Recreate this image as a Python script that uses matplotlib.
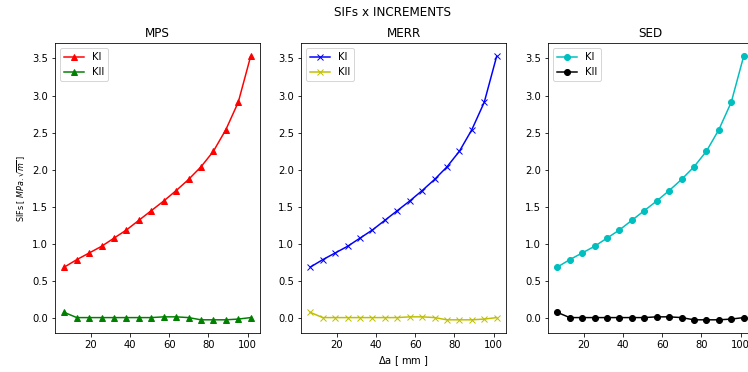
import matplotlib
matplotlib.use('Agg')
import matplotlib.pyplot as plt

# crack increments (mm) and SIFs for each criterion
da = [6.35, 12.7, 19.05, 25.4, 31.75, 38.1, 44.45, 50.8, 57.15, 63.5,
      69.85, 76.2, 82.55, 88.9, 95.25, 101.6]
ki = [0.69, 0.79, 0.88, 0.97, 1.08, 1.19, 1.32, 1.45, 1.58, 1.72,
      1.87, 2.04, 2.25, 2.54, 2.91, 3.53]
kii = [0.08, 0.01, 0.01, 0.01, 0.01, 0.01, 0.01, 0.01, 0.02, 0.02,
       0.01, -0.02, -0.02, -0.02, -0.01, 0.01]

methods = ['MPS', 'MERR', 'SED']
markers = ['^', 'x', 'o']
colors_ki = ['r', 'b', 'c']
colors_kii = ['g', 'y', 'k']

W, H = 748, 372
fig = plt.figure(figsize=(W / 72, H / 72), dpi=72)

lefts = [55, 301, 548]
for i, name in enumerate(methods):
    ax = fig.add_axes([lefts[i] / W, (H - 333) / H, 205 / W, 290 / H])
    ax.plot(da, ki, color=colors_ki[i], marker=markers[i], label='KI')
    ax.plot(da, kii, color=colors_kii[i], marker=markers[i], label='KII')
    ax.set_title(name)
    ax.legend(loc='upper left')
    if i == 0:
        ax.set_ylabel(r'SIFs [ $MPa.\sqrt{m}$ ]', fontsize=8)
    if i == 1:
        ax.set_xlabel(r'$\Delta$a [ mm ]')

fig.suptitle('SIFs x INCREMENTS', x=392 / W, y=0.985)
fig.savefig('out.png', dpi=72)
